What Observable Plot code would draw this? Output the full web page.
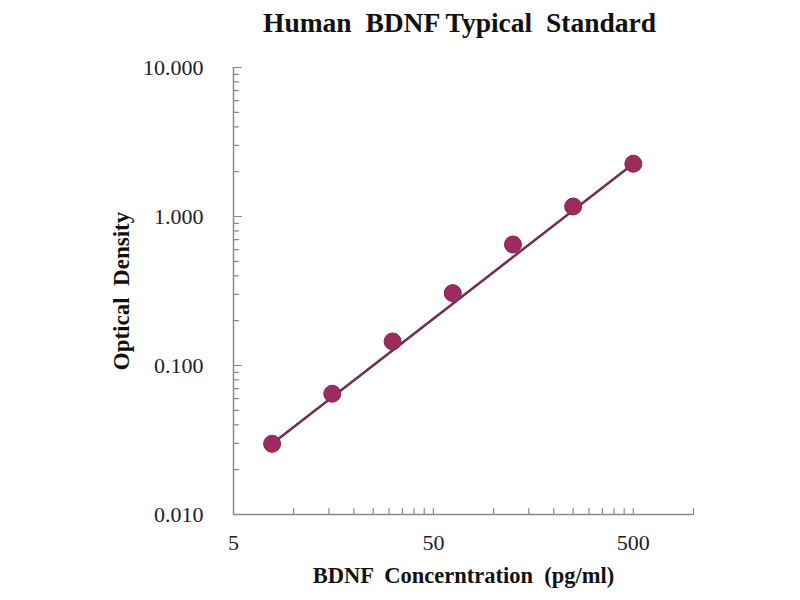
<!DOCTYPE html>
<html>
<head>
<meta charset="utf-8">
<script src="https://cdn.jsdelivr.net/npm/d3@7"></script>
<script src="https://cdn.jsdelivr.net/npm/@observablehq/plot@0.6"></script>
<style>
  html, body { margin: 0; padding: 0; background: #fff; }
  #chart svg { display: block; }
</style>
</head>
<body>
<div id="chart"></div>
<script>
// Data
const concentration = [7.8, 15.6, 31.25, 62.5, 125, 250, 500];
const opticalDensity = [0.0298, 0.0646, 0.145, 0.306, 0.649, 1.167, 2.26];

// Trend line (power fit) endpoints as seen in the picture
const fitConcentration = [7.8, 500];
const fitOpticalDensity = [0.0298, 2.26];

// Axis ticks
const xMajorTicks = [5, 50, 500];
const xMinorTicks = [10, 15, 20, 25, 30, 35, 40, 45, 100, 150, 200, 250, 300, 350, 400, 450, 1000];
const yMajorTicks = [0.01, 0.1, 1, 10];
const yMinorTicks = [0.02, 0.03, 0.04, 0.05, 0.06, 0.07, 0.08, 0.09,
                     0.2, 0.3, 0.4, 0.5, 0.6, 0.7, 0.8, 0.9,
                     2, 3, 4, 5, 6, 7, 8, 9];
const yTickLabels = ["0.010", "0.100", "1.000", "10.000"];
const xTickLabels = ["5", "50", "500"];

const title = "Human  BDNF Typical  Standard";
const xTitle = "BDNF  Concerntration  (pg/ml)";
const yTitle = "Optical  Density";

const points = concentration.map((c, i) => ({c, od: opticalDensity[i]}));
const fit = fitConcentration.map((c, i) => ({c, od: fitOpticalDensity[i]}));

const serif = "'Liberation Serif', 'Times New Roman', serif";
const axisColor = "#8a8a8a";
const tickShape = {draw(ctx, l) { ctx.moveTo(0, 0); ctx.lineTo(0, -l); }};

const chart = Plot.plot({
  width: 800,
  height: 600,
  marginLeft: 233,
  marginRight: 107,
  marginTop: 67,
  marginBottom: 86,
  style: {fontFamily: serif, background: "#fff"},
  x: {type: "log", domain: [5, 1000], axis: null},
  y: {type: "log", domain: [0.01, 10], axis: null},
  marks: [
    // axis lines
    Plot.ruleX([5], {stroke: axisColor, strokeWidth: 1.5}),
    Plot.ruleY([0.01], {stroke: axisColor, strokeWidth: 1.5}),
    // inward ticks
    Plot.vector(xMinorTicks.concat(xMajorTicks.slice(1)), {x: d => d, frameAnchor: "bottom", rotate: 0, length: 6, anchor: "start", shape: tickShape, stroke: axisColor, strokeWidth: 1.2}),
    Plot.vector(yMinorTicks, {y: d => d, frameAnchor: "left", rotate: 90, length: 5, anchor: "start", shape: tickShape, stroke: axisColor, strokeWidth: 1.2}),
    Plot.vector(yMajorTicks, {y: d => d, frameAnchor: "left", rotate: 90, length: 8, anchor: "start", shape: tickShape, stroke: axisColor, strokeWidth: 1.2}),
    // tick labels
    Plot.text(xMajorTicks, {x: d => d, frameAnchor: "bottom", dy: 35, text: (d, i) => xTickLabels[i], fontSize: 22, fill: "#222"}),
    Plot.text(yMajorTicks, {y: d => d, frameAnchor: "left", dx: -30, textAnchor: "end", text: (d, i) => yTickLabels[i], fontSize: 22, fill: "#222"}),
    // trend line and data points
    Plot.line(fit, {x: "c", y: "od", stroke: "#6e2f55", strokeWidth: 2.5}),
    Plot.dot(points, {x: "c", y: "od", r: 8.5, fill: "#9c2b60", stroke: "#852550", strokeWidth: 1}),
    // titles
    Plot.text([title], {frameAnchor: "top", dx: -4, dy: -55, fontSize: 27.5, fontWeight: "bold", fill: "#111"}),
    Plot.text([xTitle], {frameAnchor: "bottom", dy: 68, fontSize: 22.5, fontWeight: "bold", fill: "#111"}),
    Plot.text([yTitle], {frameAnchor: "left", textAnchor: "middle", dx: -112, rotate: -90, fontSize: 23, fontWeight: "bold", fill: "#111"})
  ]
});
document.getElementById("chart").append(chart);
</script>
</body>
</html>
